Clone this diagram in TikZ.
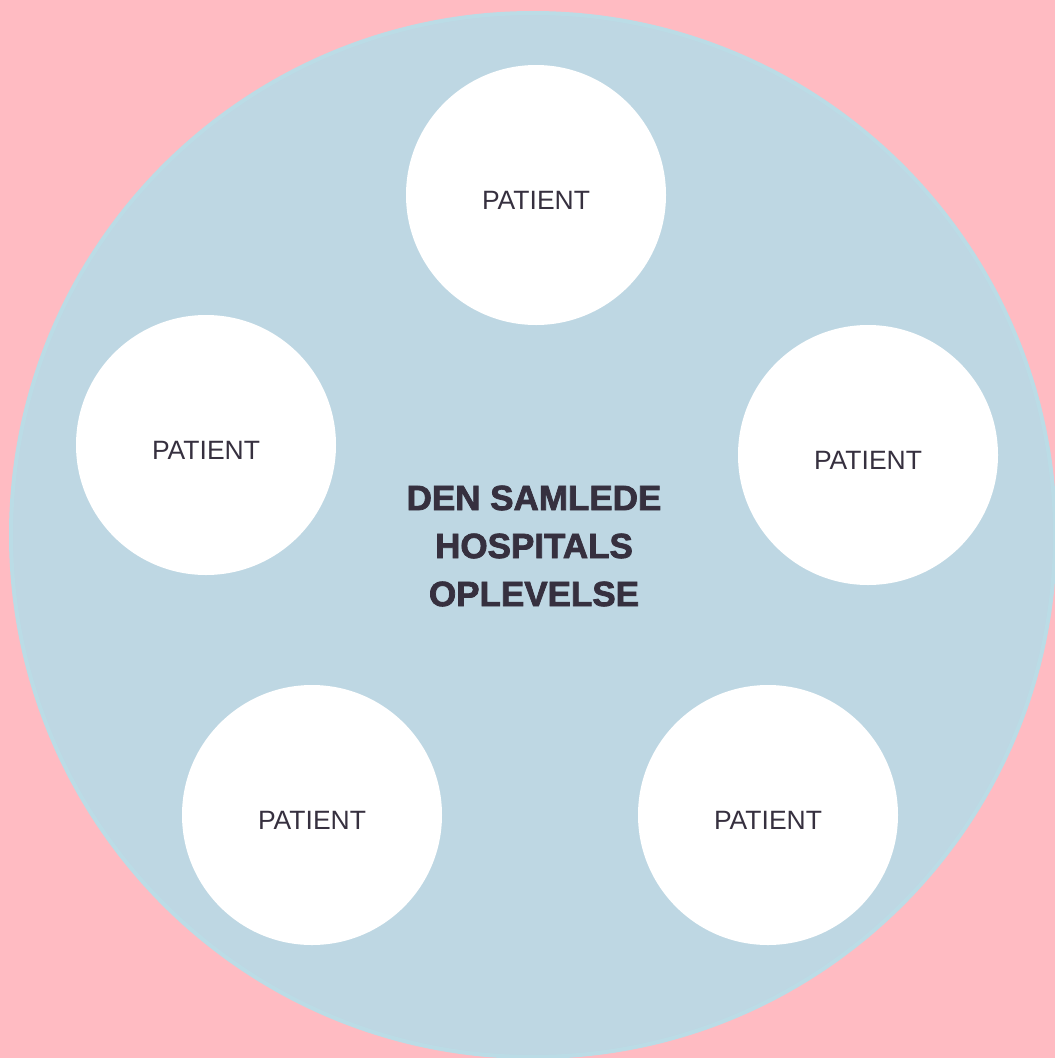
\documentclass[tikz,border=0pt]{standalone}
\usepackage{fontspec}
\setmainfont{Liberation Sans}
\newfontfamily\heavyfont{Liberation Sans}[FakeBold=2.2]
\definecolor{bgpink}{HTML}{FFBBC2}
\definecolor{bigfill}{HTML}{BED7E3}
\definecolor{bigedge}{HTML}{BBDCE6}
\definecolor{txt}{HTML}{36303F}
\begin{document}
\begin{tikzpicture}[x=1pt,y=-1pt,
  patient/.style={circle,fill=white,minimum size=260pt,inner sep=0pt,
    label={[yshift=-5pt,inner sep=0pt,text=txt,font=\fontsize{26.5}{30}\selectfont]center:PATIENT}},
  title/.style={text=txt,font=\heavyfont\bfseries\fontsize{35}{48}\selectfont,align=center}]
\clip (0,0) rectangle (1055,1058);
\fill[bgpink] (0,0) rectangle (1055,1058);
\node[circle,fill=bigfill,draw=bigedge,line width=4pt,minimum size=1044pt,inner sep=0pt] (big) at (533,535) {};
\node[patient] (p1) at (536,195) {};
\node[patient] (p2) at (206,445) {};
\node[patient] (p3) at (868,455) {};
\node[patient] (p4) at (312,815) {};
\node[patient] (p5) at (768,815) {};
\node[title] (t) at (534,546) {DEN SAMLEDE\\HOSPITALS\\OPLEVELSE};
\end{tikzpicture}
\end{document}
